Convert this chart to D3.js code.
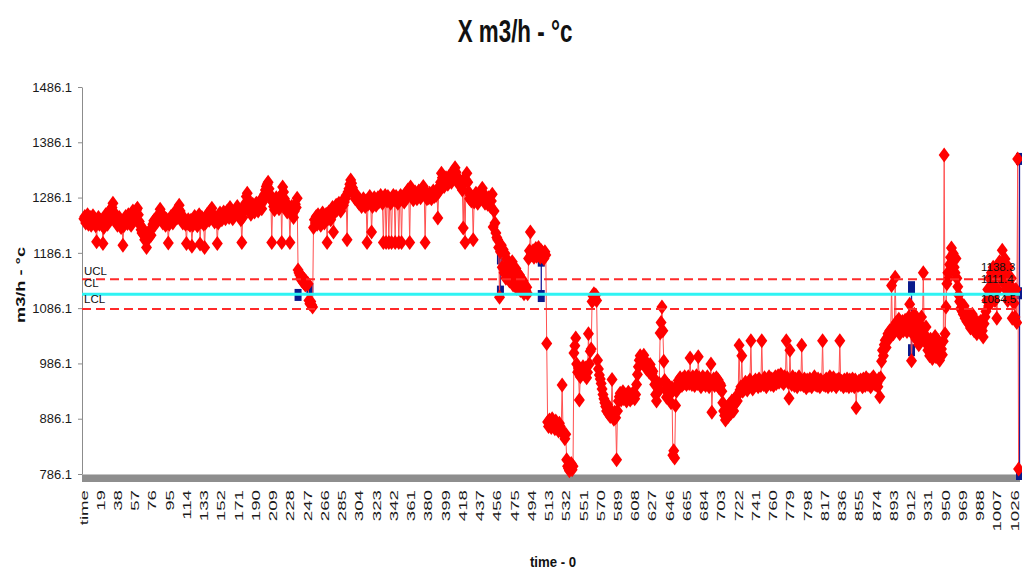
<!DOCTYPE html>
<html>
<head>
<meta charset="utf-8">
<script src="https://cdn.jsdelivr.net/npm/d3@7"></script>
<style>
  body { margin: 0; background: #fff; }
  svg { display: block; font-family: "Liberation Sans", Arial, sans-serif; }
</style>
</head>
<body>
<svg id="chart" width="1022" height="573"></svg>
<script>
// ---------------------------------------------------------------
// Data
// ---------------------------------------------------------------
const chartTitle = "X m3/h - °c";
const yTitle = "m3/h - °c";
const xTitle = "time - 0";

const yTicks = [786.1, 886.1, 986.1, 1086.1, 1186.1, 1286.1, 1386.1, 1486.1];

const xTickLabels = ["time", "19", "38", "57", "76", "95", "114", "133", "152", "171",
  "190", "209", "228", "247", "266", "285", "304", "323", "342", "361", "380", "399",
  "418", "437", "456", "475", "494", "513", "532", "551", "570", "589", "608", "627",
  "646", "665", "684", "703", "722", "741", "760", "779", "798", "817", "836", "855",
  "874", "893", "912", "931", "950", "969", "988", "1007", "1026"];

const ucl = 1138.3;
const cl = 1111.4;
const lcl = 1084.5;

// X values, one block per 19 time steps (block b starts at time 1 + 19*b)
const xBlocks = [
  [1248,1252,1240,1244,1255,1238,1246,1250,1236,1242,1253,1247,1240,1235,1206,1244,1250,1238,1245],
  [1241,1237,1203,1232,1248,1255,1244,1238,1250,1262,1258,1249,1268,1276,1260,1252,1245,1240,1236],
  [1242,1250,1238,1232,1240,1200,1235,1246,1252,1244,1239,1255,1248,1241,1236,1250,1262,1256,1247],
  [1258,1264,1267,1255,1243,1236,1228,1222,1230,1218,1210,1215,1196,1212,1220,1214,1226,1218,1232],
  [1238,1244,1236,1248,1242,1252,1246,1256,1265,1258,1248,1240,1252,1244,1236,1247,1241,1204,1238],
  [1245,1252,1248,1240,1256,1250,1262,1258,1250,1266,1272,1262,1254,1246,1240,1250,1243,1238,1203],
  [1240,1246,1238,1236,1245,1198,1236,1244,1252,1246,1240,1235,1248,1255,1202,1242,1250,1244,1238],
  [1196,1240,1248,1256,1250,1245,1262,1258,1267,1255,1248,1242,1250,1244,1203,1240,1252,1258,1250],
  [1246,1255,1260,1252,1248,1256,1262,1258,1250,1268,1262,1255,1248,1252,1260,1256,1264,1270,1262],
  [1258,1252,1246,1205,1250,1262,1270,1276,1288,1294,1282,1272,1264,1256,1268,1274,1266,1260,1270],
  [1276,1268,1262,1272,1280,1274,1266,1278,1286,1292,1300,1306,1310,1314,1302,1292,1284,1205,1278],
  [1270,1264,1276,1286,1280,1272,1266,1278,1290,1205,1305,1296,1284,1276,1268,1260,1272,1266,1205],
  [1262,1270,1258,1250,1262,1274,1268,1285,1155,1150,1146,1140,1136,1142,1132,1138,1128,1134,1130],
  [1130,1100,1094,1098,1092,1088,1232,1246,1240,1252,1238,1255,1248,1244,1236,1250,1258,1246,1240],
  [1250,1256,1205,1248,1260,1254,1246,1262,1268,1224,1258,1266,1272,1264,1270,1276,1268,1262,1274],
  [1280,1272,1278,1284,1290,1210,1296,1302,1310,1318,1312,1304,1296,1290,1284,1292,1286,1280,1276],
  [1282,1276,1270,1278,1284,1276,1270,1280,1205,1274,1282,1288,1278,1224,1270,1280,1286,1278,1272],
  [1280,1286,1278,1284,1290,1282,1276,1205,1284,1290,1205,1280,1288,1205,1282,1276,1205,1286,1290],
  [1282,1205,1288,1280,1276,1205,1284,1290,1205,1282,1288,1278,1292,1286,1296,1300,1294,1205,1305],
  [1296,1288,1282,1290,1296,1288,1284,1292,1298,1290,1286,1296,1302,1306,1298,1205,1290,1284,1292],
  [1286,1294,1290,1284,1292,1298,1288,1294,1290,1300,1249,1296,1306,1314,1330,1322,1312,1306,1316],
  [1322,1316,1310,1318,1326,1320,1314,1322,1330,1336,1340,1332,1324,1316,1310,1318,1312,1306,1300],
  [1231,1320,1205,1318,1330,1314,1296,1284,1290,1280,1286,1210,1278,1288,1294,1282,1276,1286,1292],
  [1284,1296,1303,1290,1282,1276,1288,1280,1274,1286,1278,1270,1280,1292,1233,1262,1240,1222,1214],
  [1210,1196,1106,1188,1200,1160,1192,1150,1185,1140,1175,1150,1168,1135,1160,1145,1170,1128,1155],
  [1140,1158,1122,1150,1130,1146,1118,1140,1125,1135,1112,1128,1118,1124,1112,1176,1190,1224,1184],
  [1182,1190,1178,1186,1194,1180,1188,1196,1184,1178,1190,1186,1180,1176,1188,1182,1022,880,872],
  [884,878,870,886,880,874,868,882,876,870,864,878,872,866,947,862,856,850,858],
  [812,800,796,792,798,805,794,800,1005,1018,1032,985,970,978,920,962,975,968,980],
  [972,965,978,960,970,1040,985,1008,1012,1098,1108,1112,1104,1110,1100,992,976,965,958],
  [950,940,930,922,915,908,900,912,895,905,890,898,957,892,885,898,888,812,900],
  [918,926,932,920,928,935,922,930,924,918,928,934,926,920,930,924,932,928,922],
  [930,948,966,980,992,1000,996,988,994,1001,990,982,976,986,978,970,984,976,968],
  [972,960,948,930,918,944,935,950,1041,1060,1088,1045,990,955,940,925,948,932,945],
  [930,915,942,820,828,815,910,936,948,955,944,960,952,946,958,950,962,954,948],
  [956,962,950,996,958,948,962,954,946,958,964,950,998,960,952,944,956,962,950],
  [958,946,954,962,950,944,956,985,898,950,958,946,954,960,948,956,942,950,946],
  [936,915,900,892,884,906,898,890,912,904,896,918,908,900,922,914,926,918,930],
  [1019,938,944,1000,936,946,940,952,944,938,950,944,956,1027,948,940,952,946,956],
  [948,954,944,958,950,946,1027,954,948,960,952,944,956,950,962,954,948,958,952],
  [946,958,962,950,956,964,952,958,966,954,960,950,962,956,1027,960,952,923,1010],
  [956,948,962,954,946,958,950,944,956,962,952,948,1019,954,946,958,950,942,956],
  [950,946,958,952,944,956,950,962,948,954,946,958,950,944,956,952,1027,948,954],
  [946,958,950,944,956,962,950,946,954,960,948,952,944,956,950,958,1027,948,954],
  [950,944,956,950,946,958,952,944,956,950,946,958,952,944,956,906,950,946,954],
  [948,956,950,944,958,952,946,960,954,948,956,950,944,958,952,962,956,948,954],
  [950,944,958,926,960,990,1010,1000,1020,1028,1015,1032,1040,1030,1045,1038,1127,1050,1040],
  [1050,1142,1060,1048,1055,1066,1040,1058,1050,1062,1045,1056,1064,1052,1044,1060,1070,1093,1060],
  [991,1040,1060,1075,1050,1030,1068,1045,1020,1058,1036,1070,1048,1150,1040,1025,1052,1030,1010],
  [1018,1000,1030,1010,995,1024,1006,1035,998,1015,1028,1004,992,1020,1012,1002,1026,1363,1040],
  [1088,1130,1150,1140,1165,1178,1195,1172,1185,1160,1150,1176,1140,1125,1110,1098,1085,1095,1080],
  [1075,1090,1068,1080,1062,1072,1058,1066,1050,1060,1075,1056,1045,1065,1052,1040,1060,1048,1055],
  [1062,1050,1045,1034,1058,1070,1080,1100,1120,1090,1140,1110,1150,1130,1160,1125,1100,1145,1068],
  [1120,1150,1170,1140,1160,1191,1155,1130,1175,1120,1145,1100,1160,1130,1110,1140,1068,1120,1095],
  [1070,1120,1060,1356,795]
];

// second (navy) series, only where it shows: [time, value] runs
const blueRuns = [
  [[237, 1110]],
  [[250, 1120]],
  [[460, 1176], [460, 1116]],
  [[505, 1172], [505, 1108]],
  [[913, 1124], [913, 1010]],
  [[1032, 1113], [1032, 1356], [1032, 786.1]]
];

// ---------------------------------------------------------------
// Setup
// ---------------------------------------------------------------
const redPts = [];
xBlocks.forEach((blk, b) => blk.forEach((v, j) => redPts.push({ t: 1 + 19 * b + j, v: v })));

const svg = d3.select("#chart");

const x = d3.scaleLinear().domain([0, 1032]).range([83, 1019.5]);
const y = d3.scaleLinear().domain([786.1, 1486.1]).range([474, 87]);

const left = 82, right = 1020;

// grey bar under the plot
svg.append("rect")
  .attr("x", left).attr("y", 474)
  .attr("width", right - left).attr("height", 8)
  .attr("fill", "#8e8e8e");
svg.append("line")
  .attr("x1", left).attr("x2", right)
  .attr("y1", 474.5).attr("y2", 474.5)
  .attr("stroke", "#c4c4c4");

// y axis
const yAxis = d3.axisLeft(y)
  .tickValues(yTicks)
  .tickFormat(d3.format(".1f"))
  .tickSize(4)
  .tickSizeOuter(0)
  .tickPadding(6);

const gy = svg.append("g")
  .attr("transform", `translate(${left},0)`)
  .call(yAxis)
  .attr("font-size", 13)
  .attr("font-family", null);
gy.select(".domain").attr("stroke", "#8c8c8c");
gy.selectAll(".tick line").attr("stroke", "#8c8c8c");
gy.selectAll(".tick text").attr("fill", "#1a1a1a");

// x axis (category labels every 19 steps)
const xAxis = d3.axisBottom(x)
  .tickValues(xTickLabels.map((d) => (d === "time" ? 0 : +d)))
  .tickFormat((d, i) => xTickLabels[i])
  .tickSize(0);

const gx = svg.append("g")
  .attr("transform", "translate(0,474)")
  .call(xAxis)
  .attr("font-size", 11)
  .attr("font-family", null);
gx.select(".domain").remove();
gx.selectAll(".tick text")
  .attr("x", 0).attr("y", 0).attr("dy", 0)
  .attr("text-anchor", "end")
  .attr("fill", "#1a1a1a")
  .attr("transform", "translate(4,16) rotate(-90) scale(1.7,1)");

// ---------------------------------------------------------------
// Series
// ---------------------------------------------------------------
const line = d3.line().x((d) => x(d[0])).y((d) => y(d[1]));

// navy series (under the red one)
const blue = svg.append("g");
blue.selectAll("path")
  .data(blueRuns)
  .enter()
  .append("path")
  .attr("d", line)
  .attr("fill", "none")
  .attr("stroke", "#1c1c9a")
  .attr("stroke-width", 1.3);
blue.selectAll("rect")
  .data(blueRuns.flat())
  .enter()
  .append("rect")
  .attr("x", (d) => x(d[0]) - 3.5)
  .attr("y", (d) => y(d[1]) - 6)
  .attr("width", 7)
  .attr("height", 12)
  .attr("fill", "#0a1a8c");

// red X series
svg.append("path")
  .datum(redPts.map((d) => [d.t, d.v]))
  .attr("d", line)
  .attr("fill", "none")
  .attr("stroke", "#ff5050")
  .attr("stroke-width", 1);

svg.append("g")
  .selectAll("path")
  .data(redPts)
  .enter()
  .append("path")
  .attr("d", "M0,-7.5L5.5,0L0,7.5L-5.5,0Z")
  .attr("transform", (d) => `translate(${x(d.t)},${y(d.v)})`)
  .attr("fill", "#ff0000");

// control limits
svg.selectAll(".limit")
  .data([ucl, lcl])
  .enter()
  .append("line")
  .attr("class", "limit")
  .attr("x1", left).attr("x2", right)
  .attr("y1", (d) => y(d)).attr("y2", (d) => y(d))
  .attr("stroke", "#ff2a2a")
  .attr("stroke-width", 2)
  .attr("stroke-dasharray", "9,5");

svg.append("line")
  .attr("x1", left).attr("x2", right)
  .attr("y1", y(cl)).attr("y2", y(cl))
  .attr("stroke", "#2ef3f3")
  .attr("stroke-width", 3);

// limit labels (sit just above their lines)
const limitNames = ["UCL", "CL", "LCL"];
const limitVals = [ucl, cl, lcl];

svg.append("g")
  .attr("font-size", 11.5)
  .attr("fill", "#111")
  .selectAll("text")
  .data(limitNames)
  .enter()
  .append("text")
  .attr("x", left + 2)
  .attr("y", (d, i) => y(limitVals[i]) - [4, 7, 6][i])
  .text((d) => d);

svg.append("g")
  .attr("font-size", 11.5)
  .attr("fill", "#111")
  .selectAll("text")
  .data(limitVals)
  .enter()
  .append("text")
  .attr("x", 981)
  .attr("y", (d, i) => y(d) - [8, 11, 6][i])
  .text((d) => d3.format(".1f")(d));

// ---------------------------------------------------------------
// Titles
// ---------------------------------------------------------------
svg.append("text")
  .attr("transform", "translate(515,42) scale(0.7,1)")
  .attr("text-anchor", "middle")
  .attr("font-size", 32)
  .attr("font-weight", "bold")
  .attr("fill", "#111")
  .text(chartTitle);

svg.append("text")
  .attr("transform", "translate(553,567) scale(0.88,1)")
  .attr("text-anchor", "middle")
  .attr("font-size", 15)
  .attr("font-weight", "bold")
  .attr("fill", "#111")
  .text(xTitle);

svg.append("text")
  .attr("transform", "translate(25,285) rotate(-90) scale(1.4,1)")
  .attr("text-anchor", "middle")
  .attr("font-size", 13)
  .attr("font-weight", "bold")
  .attr("fill", "#111")
  .text(yTitle);
</script>
</body>
</html>
